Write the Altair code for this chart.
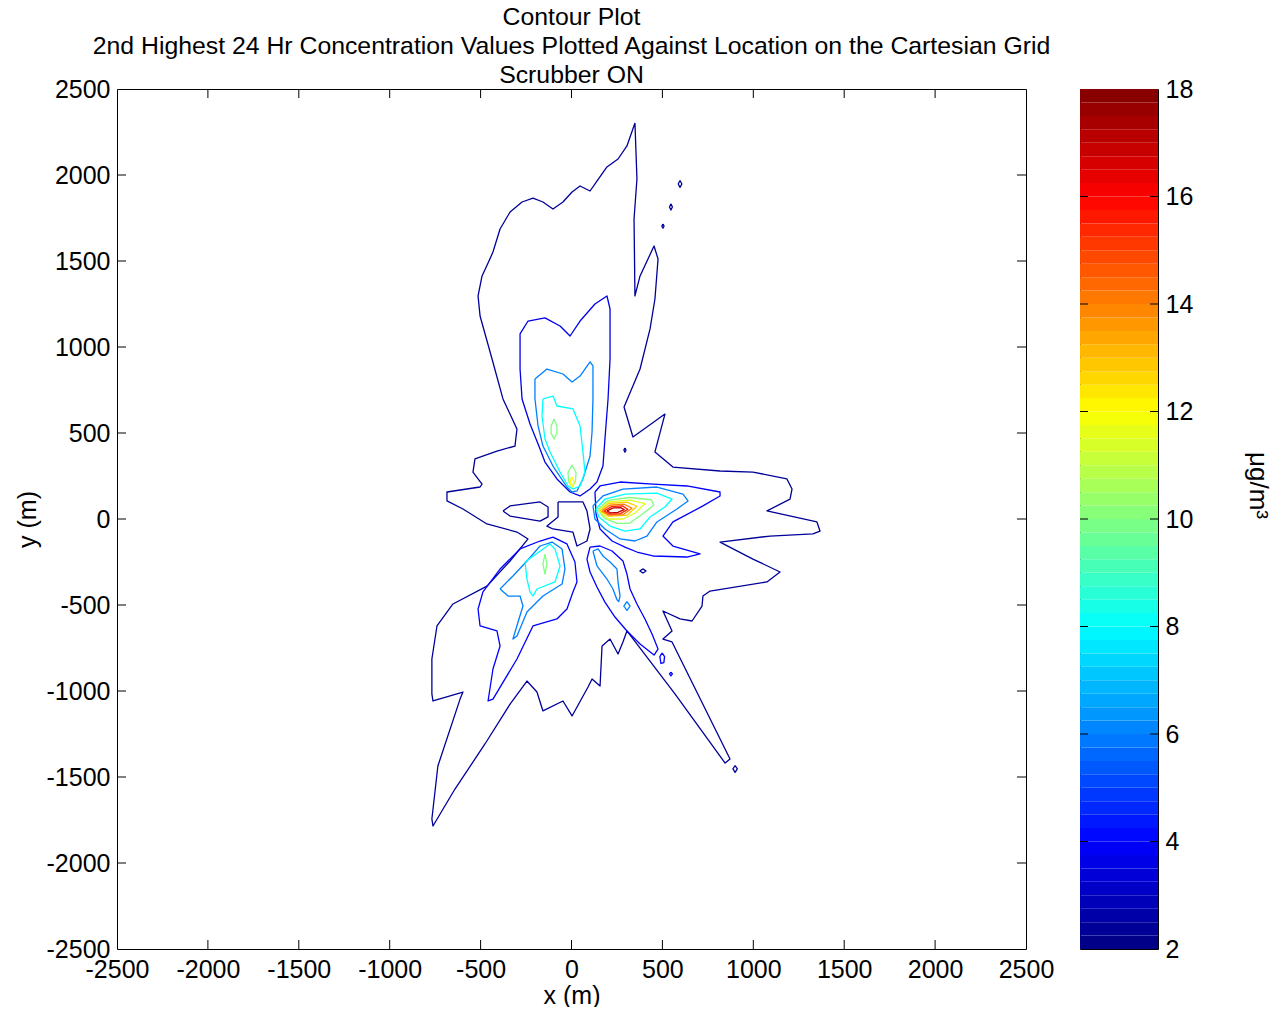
import altair as alt
import pandas as pd

FONT = "Liberation Sans, Arial, sans-serif"
FS = 25

TITLE_LINES = [
    "Contour Plot",
    "2nd Highest 24 Hr Concentration Values Plotted Against Location on the Cartesian Grid",
    "Scrubber ON",
]
AXIS_TICKS = [-2500, -2000, -1500, -1000, -500, 0, 500, 1000, 1500, 2000, 2500]
INNER_TICKS = [-2000, -1500, -1000, -500, 0, 500, 1000, 1500, 2000]
CBAR_TICKS = [2, 4, 6, 8, 10, 12, 14, 16, 18]
CBAR_INNER = [4, 6, 8, 10, 12, 14, 16]

# jet colour map stops (value -> colour)
JET_DOMAIN = [2, 4, 8, 12, 16, 18]
JET_RANGE = ["#000080", "#0000ff", "#00ffff", "#ffff00", "#ff0000", "#800000"]

# ---- contour lines, (x m, y m), level in ug/m3 ----
outer = [(349,2302),(305,2169),(256,2093),(195,2047),(140,1965),(102,1907),(47,1936),(3,1901),
 (-47,1843),(-102,1802),(-157,1843),(-212,1866),(-272,1843),(-338,1785),(-393,1686),(-432,1552),
 (-454,1500),(-492,1413),(-514,1297),(-503,1180),(-437,930),(-377,698),(-300,523),(-311,424),
 (-410,395),(-531,349),(-542,273),(-492,203),(-503,186),(-685,157),(-685,105),(-597,58),
 (-465,-29),(-300,-76),(-239,-116),(-338,-244),(-465,-390),(-652,-494),(-740,-622),(-768,-814),
 (-768,-1017),(-762,-1058),(-597,-1006),(-613,-1047),(-735,-1436),(-768,-1744),(-762,-1785),
 (-641,-1570),(-476,-1308),(-338,-1076),(-245,-942),(-190,-1006),(-157,-1116),(-47,-1058),
 (3,-1145),(91,-977),(113,-930),(157,-971),(168,-738),(212,-698),(256,-785),(283,-715),
 (305,-651),(569,-1017),(845,-1419),(872,-1395),(553,-715),(503,-698),(553,-651),(503,-535),
 (597,-581),(663,-593),(718,-506),(723,-448),(762,-419),(1075,-366),(1147,-308),(998,-233),
 (817,-134),(1092,-99),(1328,-87),(1367,-70),(1350,-17),(1075,47),(1202,116),(1213,174),
 (1185,233),(998,273),(817,279),(558,302),(459,390),(514,610),(338,477),(289,651),(377,872),
 (432,1105),(459,1279),(476,1512),(454,1587),(377,1413),(349,1297),(344,1744),(360,1977)]
low_left = [(-377,47),(-338,76),(-173,99),(-129,70),(-129,12),(-173,-12),(-338,17)]
low_center = [(-74,99),(63,99),(85,47),(102,-58),(85,-128),(30,-157),(8,-76),(-102,-58),(-135,-41),(-74,12)]
isl_1 = [(597,1968),(607,1948),(597,1928),(587,1948)]
isl_2 = [(547,1832),(555,1814),(547,1796),(539,1814)]
isl_3 = [(503,1715),(509,1703),(503,1691),(497,1703)]
isl_4 = [(900,-1433),(912,-1453),(900,-1473),(888,-1453)]
isl_5 = [(393,-290),(410,-302),(393,-314),(376,-302)]
isl_6 = [(294,413),(300,401),(294,389),(288,401)]

up_4 = [(-173,407),(-228,552),(-272,698),(-283,872),(-283,1076),(-239,1151),(-146,1169),(-63,1122),
 (-8,1064),(47,1151),(129,1250),(195,1297),(212,1221),(212,930),(201,698),(184,465),(173,308),
 (140,215),(102,174),(47,134),(-8,157),(-80,233),(-146,331)]
up_6 = [(-201,814),(-135,872),(-47,843),(3,797),(47,831),(102,913),(118,890),(118,698),(113,506),
 (102,366),(63,233),(30,163),(3,157),(-25,186),(-102,308),(-157,424),(-184,541),(-201,698)]
up_8 = [(-157,698),(-102,715),(-80,657),(8,640),(47,541),(63,390),(74,273),(47,192),(8,174),
 (-19,192),(-63,273),(-118,390),(-146,465),(-162,599)]
up_10a = [(-96,581),(-80,540),(-80,500),(-96,465),(-112,500),(-112,540)]
up_10b = [(3,314),(25,270),(22,220),(3,186),(-16,220),(-19,270)]
up_12 = [(3,244),(14,215),(3,186),(-8,215)]

hot_4 = [(129,157),(157,192),(267,215),(448,203),(635,192),(817,157),(817,134),(723,76),(558,-17),
 (503,-99),(558,-157),(707,-203),(635,-221),(448,-215),(360,-192),(294,-163),(223,-128),(157,-58),(135,29)]
hot_6 = [(118,76),(173,134),(283,174),(470,186),(613,145),(641,105),(580,58),(470,-17),(415,-99),
 (349,-128),(267,-116),(184,-58),(129,0)]
hot_8 = [(135,58),(184,116),(294,145),(470,151),(553,116),(514,70),(432,12),(377,-58),(294,-70),(212,-41),(151,12)]
hot_10 = [(145,55),(200,108),(320,125),(440,112),(452,80),(385,25),(320,-25),(250,-25),(180,5)]
hot_11 = [(150,50),(205,100),(320,110),(405,90),(350,35),(285,0),(200,0)]
hot_12 = [(158,48),(205,90),(305,98),(360,74),(305,22),(205,15)]
hot_14 = [(168,47),(210,80),(290,86),(332,63),(285,26),(205,22)]
hot_15 = [(180,47),(220,72),(280,76),(310,57),(270,31),(210,28)]
hot_17 = [(195,47),(230,65),(270,66),(290,55),(255,38),(215,36)]

sw_4 = [(-102,-105),(-25,-145),(19,-250),(30,-366),(8,-424),(-25,-523),(-80,-581),(-212,-622),
 (-300,-814),(-432,-1047),(-459,-1058),(-432,-872),(-393,-738),(-410,-651),(-503,-622),(-514,-523),
 (-487,-424),(-393,-291),(-283,-174),(-173,-128)]
sw_6 = [(-393,-407),(-322,-331),(-245,-244),(-173,-157),(-107,-134),(-52,-174),(-36,-291),(-52,-378),
 (-157,-448),(-245,-541),(-300,-680),(-322,-698),(-294,-599),(-267,-506),(-283,-448),(-349,-448)]
sw_8 = [(-256,-250),(-118,-145),(-91,-174),(-63,-273),(-91,-366),(-190,-407),(-212,-448),(-228,-424),(-245,-349)]
sw_10 = [(-146,-204),(-135,-262),(-146,-320),(-157,-262)]

se_4 = [(102,-163),(157,-157),(223,-186),(283,-244),(305,-320),(322,-407),(360,-494),(404,-581),
 (443,-669),(476,-756),(454,-791),(377,-727),(305,-651),(239,-570),(184,-483),(140,-395),(102,-308),(85,-233)]
se_6 = [(118,-186),(146,-174),(173,-215),(212,-250),(250,-291),(256,-366),(267,-448),(260,-480),
 (250,-470),(228,-407),(195,-349),(140,-273)]
se_6b = [(305,-480),(322,-506),(305,-532),(288,-506)]
se_4b = [(498,-779),(512,-800),(508,-835),(492,-840),(486,-800)]
se_4c = [(547,-890),(555,-901),(547,-912),(539,-901)]

L_OUT = 2.4
CONTOURS = [
    ("outer", L_OUT, outer), ("low_left", L_OUT, low_left), ("low_center", L_OUT, low_center),
    ("isl_1", L_OUT, isl_1), ("isl_2", L_OUT, isl_2), ("isl_3", L_OUT, isl_3), ("isl_4", L_OUT, isl_4),
    ("isl_5", L_OUT, isl_5), ("isl_6", L_OUT, isl_6),
    ("up_4", 3.6, up_4), ("up_6", 6, up_6), ("up_8", 8, up_8), ("up_10a", 10, up_10a),
    ("up_10b", 10, up_10b), ("up_12", 12, up_12),
    ("hot_4", 4, hot_4), ("hot_6", 6, hot_6), ("hot_8", 8, hot_8), ("hot_10", 10, hot_10),
    ("hot_11", 11.5, hot_11), ("hot_12", 12.8, hot_12), ("hot_14", 14, hot_14),
    ("hot_15", 15.5, hot_15), ("hot_17", 17, hot_17),
    ("sw_4", 4, sw_4), ("sw_6", 6, sw_6), ("sw_8", 8, sw_8), ("sw_10", 10, sw_10),
    ("se_4", 4, se_4), ("se_6", 6, se_6), ("se_6b", 6, se_6b), ("se_4b", 4, se_4b), ("se_4c", 4, se_4c),
]

rows = []
for name, lev, pts in CONTOURS:
    closed = list(pts) + [pts[0]]
    for i, (x, y) in enumerate(closed):
        rows.append({"cid": name, "lev": lev, "x": x, "y": y, "o": i})
df = pd.DataFrame(rows)

jet = alt.Scale(domain=JET_DOMAIN, range=JET_RANGE, interpolate="rgb")
xs = alt.Scale(domain=[-2500, 2500], nice=False, zero=False)
ys = alt.Scale(domain=[-2500, 2500], nice=False, zero=False)

W, H = 909, 860
TK = 9

axis_common = dict(grid=False, ticks=False, domain=False, labelFontSize=FS, labelFont=FONT,
                   titleFontSize=FS, titleFont=FONT, titleFontWeight="normal",
                   labelColor="black", titleColor="black", labelFlush=False, labelOverlap=False,
                   labelExpr="'' + datum.value")

lines = alt.Chart(df).mark_line(strokeWidth=1.3, strokeJoin="round").encode(
    x=alt.X("x:Q", scale=xs, axis=alt.Axis(values=AXIS_TICKS, title="x (m)", labelPadding=8,
                                            titlePadding=1, **axis_common)),
    y=alt.Y("y:Q", scale=ys, axis=alt.Axis(values=AXIS_TICKS, title="y (m)", labelPadding=7,
                                            titlePadding=6, **axis_common)),
    color=alt.Color("lev:Q", scale=jet, legend=None),
    detail="cid:N",
    order="o:Q",
)

tdf = pd.DataFrame({"v": INNER_TICKS})
tick_style = dict(color="black", strokeWidth=1)
t_bottom = alt.Chart(tdf).mark_rule(**tick_style).encode(
    x=alt.X("v:Q", scale=xs), y=alt.value(H), y2=alt.value(H - TK))
t_top = alt.Chart(tdf).mark_rule(**tick_style).encode(
    x=alt.X("v:Q", scale=xs), y=alt.value(0), y2=alt.value(TK))
t_left = alt.Chart(tdf).mark_rule(**tick_style).encode(
    y=alt.Y("v:Q", scale=ys), x=alt.value(0), x2=alt.value(TK))
t_right = alt.Chart(tdf).mark_rule(**tick_style).encode(
    y=alt.Y("v:Q", scale=ys), x=alt.value(W), x2=alt.value(W - TK))

main = alt.layer(lines, t_bottom, t_top, t_left, t_right).properties(
    width=W, height=H,
    title=alt.TitleParams(TITLE_LINES, fontSize=24.8, font=FONT, fontWeight="normal", color="black",
                          lineHeight=29, anchor="middle", offset=-11),
)

# colour bar
band_lo = [2 + 0.25 * i for i in range(64)]
bands = pd.DataFrame({"lo": band_lo, "hi": [b + 0.25 for b in band_lo], "mid": [b + 0.125 for b in band_lo]})
cs = alt.Scale(domain=[2, 18], nice=False, zero=False)
CW = 78
cbar_axis = dict(axis_common)
cbar_axis["titleFontSize"] = 26
cbar_rect = alt.Chart(bands).mark_rect().encode(
    y=alt.Y("lo:Q", scale=cs, axis=alt.Axis(orient="right", values=CBAR_TICKS, title="μg/m³",
                                            labelPadding=7, titleAngle=90, titleX=86, titleY=396,
                                            **cbar_axis)),
    y2="hi:Q",
    x=alt.value(0), x2=alt.value(CW),
    color=alt.Color("mid:Q", scale=jet, legend=None),
)
cdf = pd.DataFrame({"v": CBAR_INNER})
c_left = alt.Chart(cdf).mark_rule(**tick_style).encode(
    y=alt.Y("v:Q", scale=cs), x=alt.value(0), x2=alt.value(8))
c_right = alt.Chart(cdf).mark_rule(**tick_style).encode(
    y=alt.Y("v:Q", scale=cs), x=alt.value(CW), x2=alt.value(CW - 8))
cbar = alt.layer(cbar_rect, c_left, c_right).properties(width=CW, height=H)

chart = alt.hconcat(main, cbar, spacing=54, bounds="flush").resolve_scale(
    y="independent", x="independent"
).configure_view(stroke="black", strokeWidth=1).properties(
    padding={"left": 6, "top": -4, "right": 3, "bottom": -2}
)

chart.save("out.html", embed_options={"renderer": "svg", "actions": False})
